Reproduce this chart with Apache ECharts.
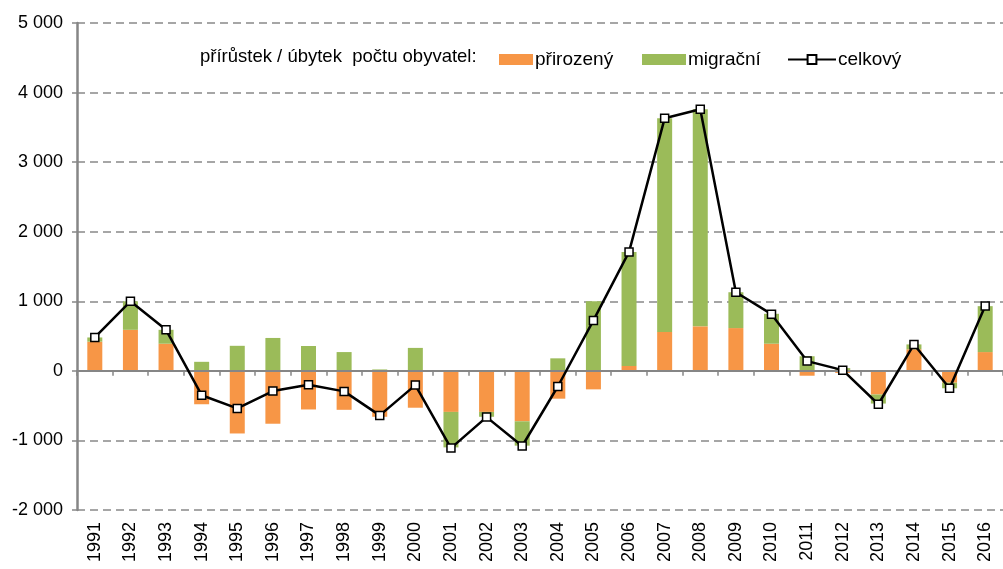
<!DOCTYPE html>
<html>
<head>
<meta charset="utf-8">
<script src="https://cdn.jsdelivr.net/npm/echarts@6/dist/echarts.min.js"></script>
<style>html,body{margin:0;padding:0;background:#fff;}#c{width:1003px;height:569px;}</style>
</head>
<body>
<div id="c"></div>
<script>
const years = ['1991','1992','1993','1994','1995','1996','1997','1998','1999','2000','2001','2002','2003','2004','2005','2006','2007','2008','2009','2010','2011','2012','2013','2014','2015','2016'];
const natural = [420,590,390,-480,-900,-760,-555,-560,-660,-530,-590,-590,-725,-400,-266,70,560,640,615,390,-70,-30,-340,310,-170,270];
const migration = [60,410,200,130,360,473,357,270,20,330,-510,-70,-350,180,1000,1640,3070,3120,515,430,210,40,-130,70,-80,660];
const total = [480,1000,590,-350,-540,-290,-200,-295,-640,-205,-1110,-665,-1080,-225,725,1710,3630,3760,1130,815,140,10,-480,380,-250,932];
const legendTitle = 'přírůstek / úbytek  počtu obyvatel:';
const names = ['přirozený','migrační','celkový'];

const FONT = '"Liberation Sans Narrow", "Liberation Sans", Arial, sans-serif';
const chart = echarts.init(document.getElementById('c'));
const fmt = v => String(v).replace(/\B(?=(\d{3})+(?!\d))/g, ' ');
const legTxt = { fontSize: 19, color: '#000', fontFamily: FONT, padding: [0, 0, 0, -3] };
chart.setOption({
  animation: false,
  textStyle: { fontFamily: FONT },
  grid: { left: 77, top: 23, bottom: 59, right: -12, containLabel: false },
  graphic: [{
    type: 'text', left: 200, top: 47,
    style: { text: legendTitle, font: '18.5px ' + FONT, fill: '#000' }
  }],
  legend: [{
    left: 494, top: 45, itemWidth: 34, itemHeight: 11, textStyle: legTxt,
    data: [{ name: names[0], icon: 'rect' }]
  }, {
    left: 637, top: 45, itemWidth: 44, itemHeight: 11, textStyle: legTxt,
    data: [{ name: names[1], icon: 'rect' }]
  }, {
    left: 782, top: 45, itemWidth: 48, itemHeight: 11, textStyle: legTxt,
    data: [{ name: names[2] }]
  }],
  xAxis: [{
    type: 'category', data: years, position: 'bottom',
    axisLine: { show: false, onZero: false }, axisTick: { show: false },
    axisLabel: { rotate: 90, margin: 12, fontSize: 18, color: '#000', fontFamily: FONT }
  }, {
    type: 'category', data: years, position: 'top', z: 3,
    axisLine: { show: true, onZero: true, lineStyle: { color: '#868686', width: 2 } },
    axisTick: { show: true, inside: true, length: 5, lineStyle: { color: '#868686', width: 1.5 } },
    axisLabel: { show: false }, splitLine: { show: false }
  }],
  yAxis: {
    type: 'value', min: -2000, max: 5000, interval: 1000,
    axisLine: { show: true, onZero: false, lineStyle: { color: '#868686', width: 2.5 } },
    axisTick: { show: true, length: 5, lineStyle: { color: '#868686', width: 1.5 } },
    axisLabel: { formatter: fmt, fontSize: 18, color: '#000', margin: 14, fontFamily: FONT },
    splitLine: { show: true, lineStyle: { color: '#a6a6a6', width: 2, type: [8, 5] } }
  },
  series: [{
    name: names[0], type: 'bar', stack: 's', data: natural, barWidth: 15,
    itemStyle: { color: '#F79646' }
  }, {
    name: names[1], type: 'bar', stack: 's', data: migration, barWidth: 15,
    itemStyle: { color: '#9BBB59' }
  }, {
    name: names[2], type: 'line', data: total, z: 5,
    symbol: 'rect', symbolSize: 8, showAllSymbol: true,
    lineStyle: { color: '#000', width: 2.5 },
    itemStyle: { color: '#fff', borderColor: '#000', borderWidth: 1.5 }
  }]
});
</script>
</body>
</html>
